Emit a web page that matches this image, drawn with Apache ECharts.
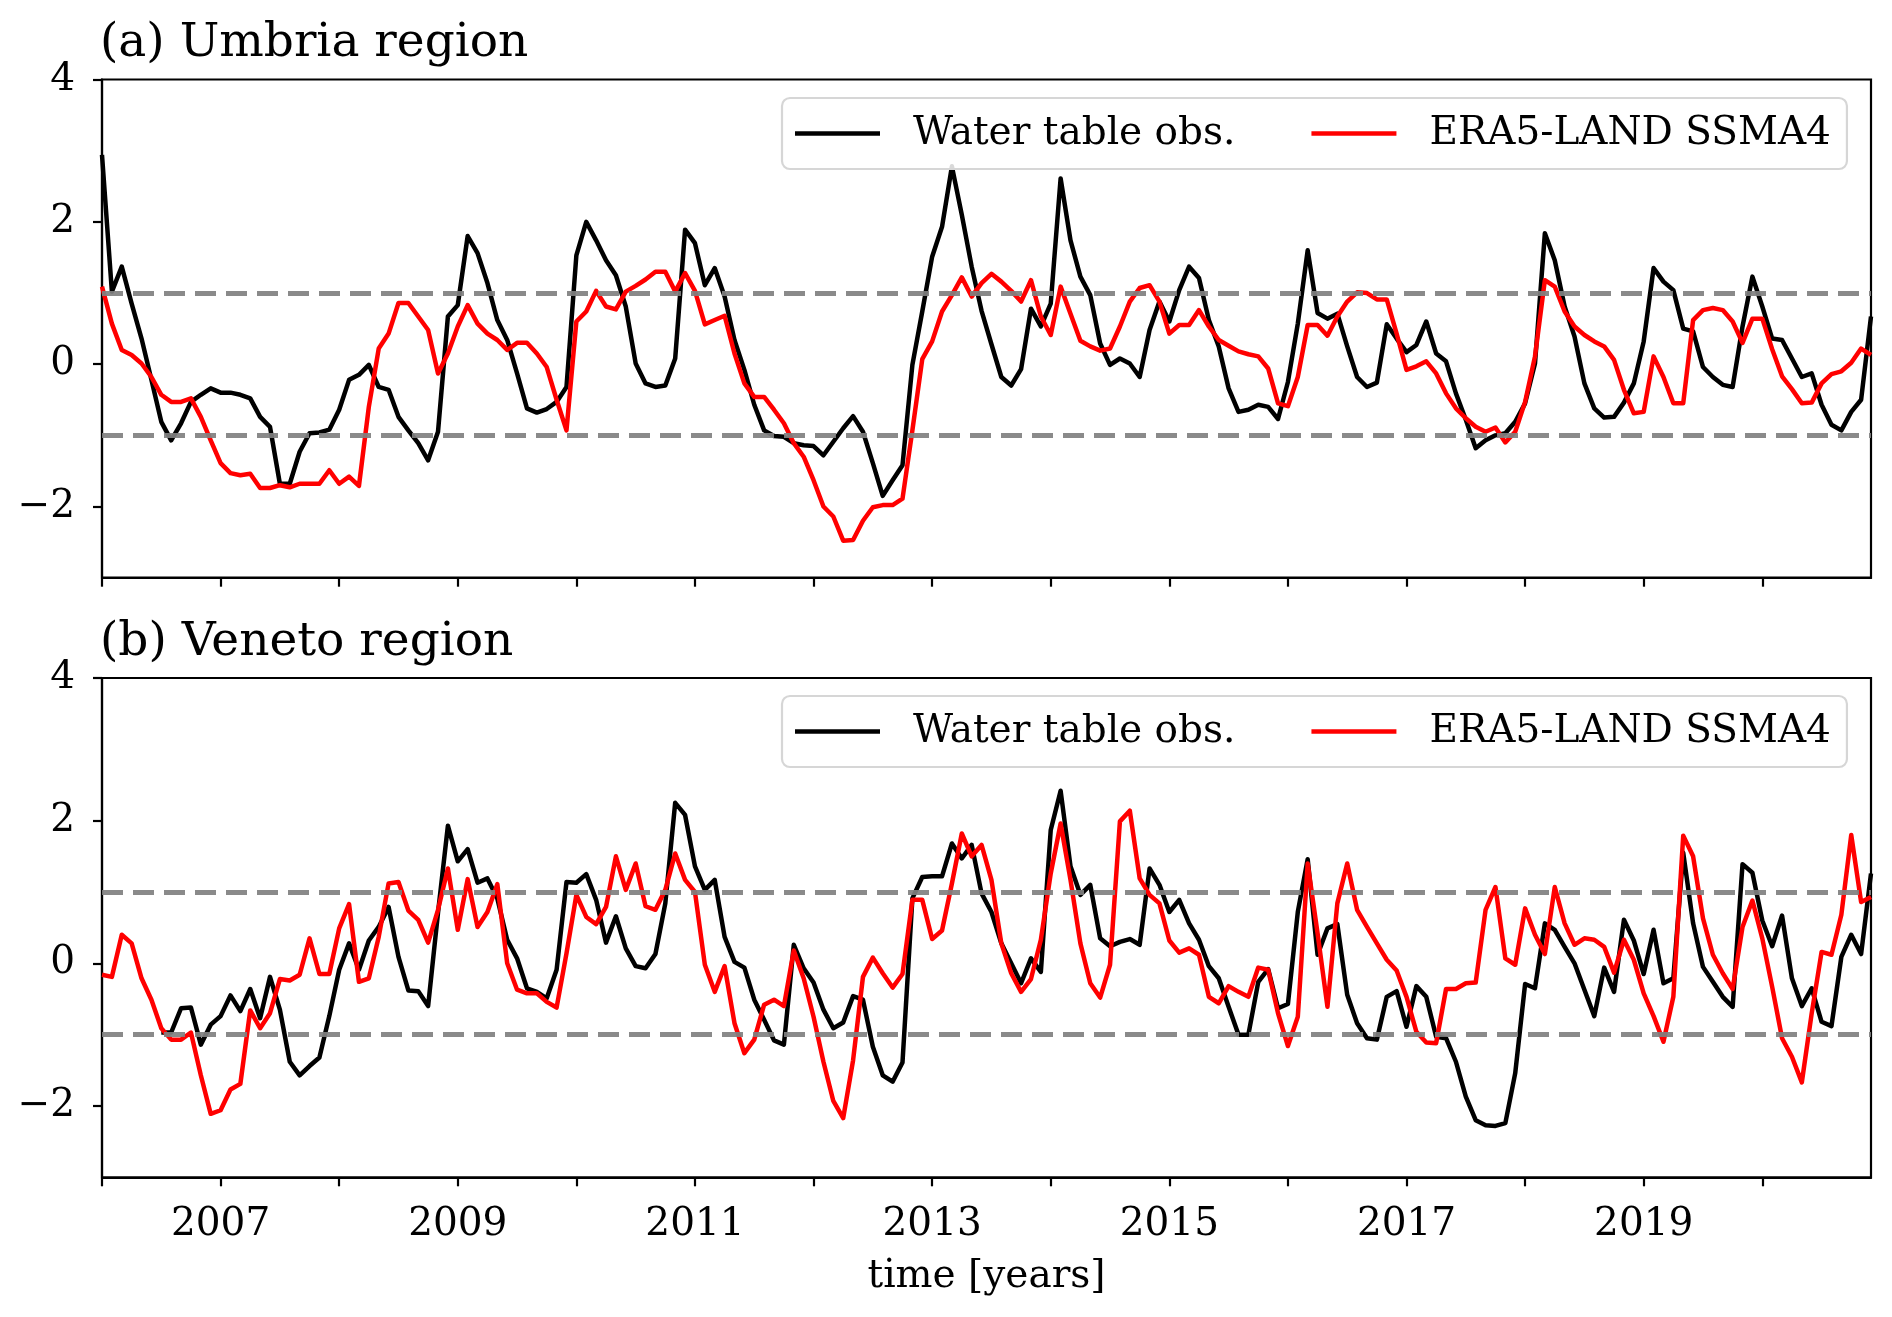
<!DOCTYPE html>
<html>
<head>
<meta charset="utf-8">
<script src="https://cdn.jsdelivr.net/npm/echarts@6/dist/echarts.min.js"></script>
<style>
  html, body { margin: 0; padding: 0; background: #ffffff; }
  #chart { width: 1892px; height: 1317px; }
</style>
</head>
<body>
<div id="chart"></div>
<script>
// ---- data (monthly, Jan 2006 - Dec 2020) ----
const startYear = 2006;
const seriesNames = ['Water table obs.', 'ERA5-LAND SSMA4'];
const panelTitles = ['(a) Umbria region', '(b) Veneto region'];
const xTickYears = [2006, 2007, 2008, 2009, 2010, 2011, 2012, 2013, 2014, 2015, 2016, 2017, 2018, 2019, 2020];
const xLabelYears = [2007, 2009, 2011, 2013, 2015, 2017, 2019];
const yTickValues = [-2, 0, 2, 4];
const thresholds = [1, -1];

const umbriaObs = [
  2.94, 1.02, 1.37, 0.85, 0.36, -0.22, -0.81, -1.07, -0.83, -0.53,
  -0.43, -0.34, -0.40, -0.40, -0.43, -0.48, -0.74, -0.88, -1.68, -1.68,
  -1.23, -0.97, -0.96, -0.92, -0.64, -0.22, -0.15, -0.01, -0.32, -0.36,
  -0.74, -0.93, -1.11, -1.35, -0.95, 0.67, 0.83, 1.80, 1.56, 1.14,
  0.62, 0.34, -0.13, -0.62, -0.68, -0.63, -0.53, -0.32, 1.53, 2.00,
  1.74, 1.46, 1.25, 0.81, 0.01, -0.27, -0.32, -0.30, 0.08, 1.89,
  1.70, 1.11, 1.35, 0.95, 0.34, -0.08, -0.57, -0.93, -1.01, -1.02,
  -1.11, -1.14, -1.15, -1.28, -1.09, -0.90, -0.73, -0.95, -1.39, -1.85,
  -1.63, -1.42, -0.01, 0.74, 1.51, 1.93, 2.78, 2.10, 1.37, 0.75,
  0.28, -0.18, -0.30, -0.07, 0.78, 0.53, 0.85, 2.61, 1.74, 1.23,
  0.97, 0.29, -0.01, 0.08, 0.01, -0.18, 0.48, 0.88, 0.60, 1.04,
  1.37, 1.21, 0.62, 0.25, -0.34, -0.67, -0.64, -0.57, -0.60, -0.77,
  -0.25, 0.57, 1.60, 0.72, 0.64, 0.71, 0.25, -0.18, -0.32, -0.26,
  0.56, 0.36, 0.17, 0.27, 0.60, 0.15, 0.04, -0.41, -0.78, -1.18,
  -1.07, -1.00, -0.97, -0.81, -0.55, 0.01, 1.84, 1.46, 0.81, 0.39,
  -0.27, -0.62, -0.75, -0.74, -0.54, -0.27, 0.32, 1.35, 1.16, 1.04,
  0.50, 0.46, -0.04, -0.18, -0.29, -0.32, 0.53, 1.23, 0.81, 0.36,
  0.34, 0.08, -0.18, -0.13, -0.57, -0.85, -0.93, -0.67, -0.50, 0.67
];

const umbriaEra = [
  1.09, 0.57, 0.20, 0.13, 0.01, -0.18, -0.43, -0.53, -0.53, -0.48,
  -0.74, -1.07, -1.39, -1.53, -1.56, -1.54, -1.74, -1.74, -1.70, -1.73,
  -1.68, -1.68, -1.68, -1.49, -1.68, -1.58, -1.71, -0.60, 0.22, 0.43,
  0.86, 0.86, 0.67, 0.48, -0.13, 0.15, 0.53, 0.83, 0.57, 0.43,
  0.34, 0.20, 0.30, 0.30, 0.15, -0.04, -0.50, -0.93, 0.60, 0.74,
  1.03, 0.81, 0.77, 1.02, 1.10, 1.19, 1.30, 1.30, 1.02, 1.28,
  1.03, 0.56, 0.62, 0.68, 0.15, -0.27, -0.46, -0.46, -0.64, -0.83,
  -1.11, -1.30, -1.63, -2.00, -2.14, -2.48, -2.47, -2.20, -2.01, -1.98,
  -1.98, -1.89, -0.93, 0.07, 0.32, 0.74, 0.97, 1.22, 0.95, 1.14,
  1.27, 1.16, 1.03, 0.88, 1.18, 0.67, 0.41, 1.09, 0.71, 0.33,
  0.25, 0.19, 0.22, 0.53, 0.88, 1.07, 1.11, 0.88, 0.43, 0.55,
  0.55, 0.76, 0.53, 0.34, 0.26, 0.18, 0.14, 0.11, -0.06, -0.55,
  -0.59, -0.18, 0.55, 0.55, 0.40, 0.67, 0.88, 1.01, 1.00, 0.91,
  0.91, 0.43, -0.08, -0.03, 0.04, -0.13, -0.41, -0.62, -0.76, -0.88,
  -0.95, -0.89, -1.10, -0.95, -0.53, 0.11, 1.18, 1.09, 0.74, 0.53,
  0.41, 0.32, 0.25, 0.06, -0.36, -0.69, -0.67, 0.11, -0.18, -0.55,
  -0.55, 0.62, 0.76, 0.79, 0.76, 0.60, 0.30, 0.64, 0.64, 0.21,
  -0.17, -0.35, -0.55, -0.54, -0.27, -0.14, -0.10, 0.02, 0.22, 0.13
];

const venetoObs = [
  null, null, null, null, null, null, -0.97, -0.97, -0.63, -0.62,
  -1.14, -0.86, -0.74, -0.45, -0.67, -0.36, -0.77, -0.19, -0.65, -1.38,
  -1.57, -1.44, -1.32, -0.74, -0.09, 0.28, -0.09, 0.32, 0.51, 0.79,
  0.09, -0.38, -0.39, -0.60, 0.71, 1.93, 1.43, 1.60, 1.13, 1.19,
  0.91, 0.33, 0.07, -0.35, -0.40, -0.49, -0.09, 1.14, 1.13, 1.25,
  0.89, 0.29, 0.66, 0.21, -0.04, -0.07, 0.13, 0.84, 2.25, 2.08,
  1.36, 1.03, 1.17, 0.37, 0.02, -0.06, -0.51, -0.79, -1.08, -1.14,
  0.26, -0.07, -0.27, -0.65, -0.91, -0.83, -0.46, -0.51, -1.17, -1.57,
  -1.66, -1.39, 0.91, 1.21, 1.22, 1.22, 1.68, 1.47, 1.66, 0.98,
  0.72, 0.28, 0.00, -0.28, 0.07, -0.12, 1.87, 2.42, 1.36, 0.96,
  1.10, 0.35, 0.24, 0.30, 0.34, 0.26, 1.33, 1.10, 0.72, 0.89,
  0.56, 0.33, -0.04, -0.21, -0.61, -1.00, -1.00, -0.26, -0.08, -0.63,
  -0.57, 0.72, 1.46, 0.12, 0.49, 0.55, -0.44, -0.84, -1.05, -1.07,
  -0.47, -0.39, -0.89, -0.32, -0.47, -1.03, -1.05, -1.38, -1.87, -2.20,
  -2.27, -2.28, -2.24, -1.54, -0.29, -0.35, 0.56, 0.47, 0.23, 0.00,
  -0.37, -0.74, -0.06, -0.40, 0.61, 0.32, -0.15, 0.47, -0.28, -0.21,
  1.55, 0.56, -0.05, -0.26, -0.47, -0.61, 1.39, 1.27, 0.60, 0.24,
  0.67, -0.21, -0.60, -0.35, -0.82, -0.88, 0.09, 0.40, 0.13, 1.26
];

const venetoEra = [
  -0.16, -0.19, 0.40, 0.28, -0.21, -0.51, -0.91, -1.07, -1.07, -0.97,
  -1.57, -2.11, -2.06, -1.77, -1.69, -0.66, -0.91, -0.70, -0.22, -0.24,
  -0.16, 0.35, -0.15, -0.15, 0.49, 0.83, -0.26, -0.21, 0.37, 1.12,
  1.14, 0.74, 0.61, 0.29, 0.75, 1.33, 0.47, 1.18, 0.51, 0.72,
  1.11, 0.00, -0.37, -0.42, -0.42, -0.54, -0.62, 0.14, 0.96, 0.65,
  0.55, 0.79, 1.50, 1.03, 1.40, 0.80, 0.75, 1.03, 1.54, 1.17,
  1.00, -0.02, -0.40, -0.04, -0.84, -1.26, -1.07, -0.58, -0.51, -0.60,
  0.18, -0.21, -0.75, -1.38, -1.93, -2.17, -1.36, -0.19, 0.08, -0.14,
  -0.34, -0.15, 0.89, 0.89, 0.34, 0.46, 1.12, 1.82, 1.50, 1.66,
  1.17, 0.28, -0.14, -0.40, -0.22, 0.33, 1.26, 1.96, 1.17, 0.28,
  -0.28, -0.48, -0.02, 1.99, 2.14, 1.19, 0.96, 0.84, 0.32, 0.15,
  0.21, 0.12, -0.47, -0.56, -0.32, -0.40, -0.47, -0.06, -0.09, -0.70,
  -1.16, -0.75, 1.40, 0.42, -0.61, 0.84, 1.40, 0.75, 0.51, 0.28,
  0.05, -0.10, -0.47, -0.96, -1.11, -1.12, -0.36, -0.36, -0.28, -0.27,
  0.75, 1.07, 0.07, -0.02, 0.77, 0.40, 0.13, 1.07, 0.56, 0.26,
  0.35, 0.33, 0.23, -0.13, 0.33, 0.05, -0.42, -0.74, -1.10, -0.47,
  1.79, 1.50, 0.63, 0.12, -0.14, -0.36, 0.51, 0.88, 0.35, -0.33,
  -1.05, -1.31, -1.67, -0.70, 0.16, 0.12, 0.68, 1.80, 0.86, 0.93
];

// ---- chart ----
const FONT = "'DejaVu Serif', 'Liberation Serif', serif";
const monthTime = umbriaObs.map((_, i) => startYear + i / 12);
const xMax = monthTime[monthTime.length - 1];
const toPairs = arr => arr.map((v, i) => [monthTime[i], v]);
const minusFmt = v => String(v).replace('-', '\u2212');
const LINE_W = 4.5;

const gridPos = [
  { left: 102, right: 21, top: 79.5, height: 498.2 },
  { left: 102, right: 21, top: 678, height: 499.3 }
];

function makeX(idx, showLabels) {
  return {
    type: 'value', gridIndex: idx, min: startYear, max: xMax,
    axisLine: { show: true, onZero: false, lineStyle: { color: '#000', width: 2.2 } },
    axisTick: { show: true, length: 9, customValues: xTickYears, lineStyle: { color: '#000', width: 2.2 } },
    axisLabel: {
      show: showLabels, customValues: xLabelYears, margin: 28,
      formatter: v => String(v),
      fontFamily: FONT, fontSize: 39, color: '#000'
    },
    splitLine: { show: false },
    name: showLabels ? 'time [years]' : '',
    nameLocation: 'middle', nameGap: 80,
    nameTextStyle: { fontFamily: FONT, fontSize: 39, color: '#000' }
  };
}
function makeY(idx) {
  return {
    type: 'value', gridIndex: idx, min: -3, max: 4,
    axisLine: { show: true, onZero: false, lineStyle: { color: '#000', width: 2.2 } },
    axisTick: { show: true, length: 9, customValues: yTickValues, lineStyle: { color: '#000', width: 2.2 } },
    axisLabel: {
      customValues: yTickValues, margin: 27, formatter: minusFmt,
      fontFamily: FONT, fontSize: 39, color: '#000'
    },
    splitLine: { show: false }
  };
}
function dataSeries(name, arr, color, idx) {
  return {
    name: name, type: 'line', xAxisIndex: idx, yAxisIndex: idx,
    data: toPairs(arr), showSymbol: false, symbol: 'none',
    connectNulls: false, animation: false,
    emphasis: { disabled: true },
    lineStyle: { color: color, width: LINE_W, join: 'round' },
    itemStyle: { color: color },
    z: color === '#ff0000' ? 4 : 3
  };
}
function threshSeries(idx) {
  return {
    type: 'line', xAxisIndex: idx, yAxisIndex: idx, data: [], silent: true,
    markLine: {
      symbol: 'none', silent: true, animation: false, label: { show: false },
      lineStyle: { color: '#808080', type: [21, 10], width: 5, opacity: 0.92 },
      data: thresholds.map(t => ({ yAxis: t }))
    },
    z: 2
  };
}
function makeLegend(top) {
  return {
    left: 782, top: top, orient: 'horizontal',
    data: seriesNames,
    icon: 'rect',
    itemWidth: 85, itemHeight: 4.5, itemGap: 76,
    padding: [16, 16, 16, 13],
    borderColor: '#d6d6d6', borderWidth: 2.2, borderRadius: 8,
    backgroundColor: 'rgba(255,255,255,0.85)',
    textStyle: { fontFamily: FONT, fontSize: 39, color: '#000', padding: [0, 0, 0, 28] },
    selectedMode: false
  };
}

const chart = echarts.init(document.getElementById('chart'), null, { renderer: 'canvas' });
chart.setOption({
  animation: false,
  backgroundColor: '#ffffff',
  title: [
    { text: panelTitles[0], left: 100, top: 20, padding: 0,
      textStyle: { fontFamily: FONT, fontSize: 47, fontWeight: 'normal', color: '#000' } },
    { text: panelTitles[1], left: 100, top: 619, padding: 0,
      textStyle: { fontFamily: FONT, fontSize: 47, fontWeight: 'normal', color: '#000' } }
  ],
  legend: [makeLegend(98), makeLegend(696)],
  grid: gridPos.map(g => Object.assign({ show: true, borderColor: '#000', borderWidth: 2.2, backgroundColor: 'transparent' }, g)),
  xAxis: [makeX(0, false), makeX(1, true)],
  yAxis: [makeY(0), makeY(1)],
  series: [
    dataSeries(seriesNames[0], umbriaObs, '#000000', 0),
    dataSeries(seriesNames[1], umbriaEra, '#ff0000', 0),
    threshSeries(0),
    dataSeries(seriesNames[0], venetoObs, '#000000', 1),
    dataSeries(seriesNames[1], venetoEra, '#ff0000', 1),
    threshSeries(1)
  ]
});
</script>
</body>
</html>
